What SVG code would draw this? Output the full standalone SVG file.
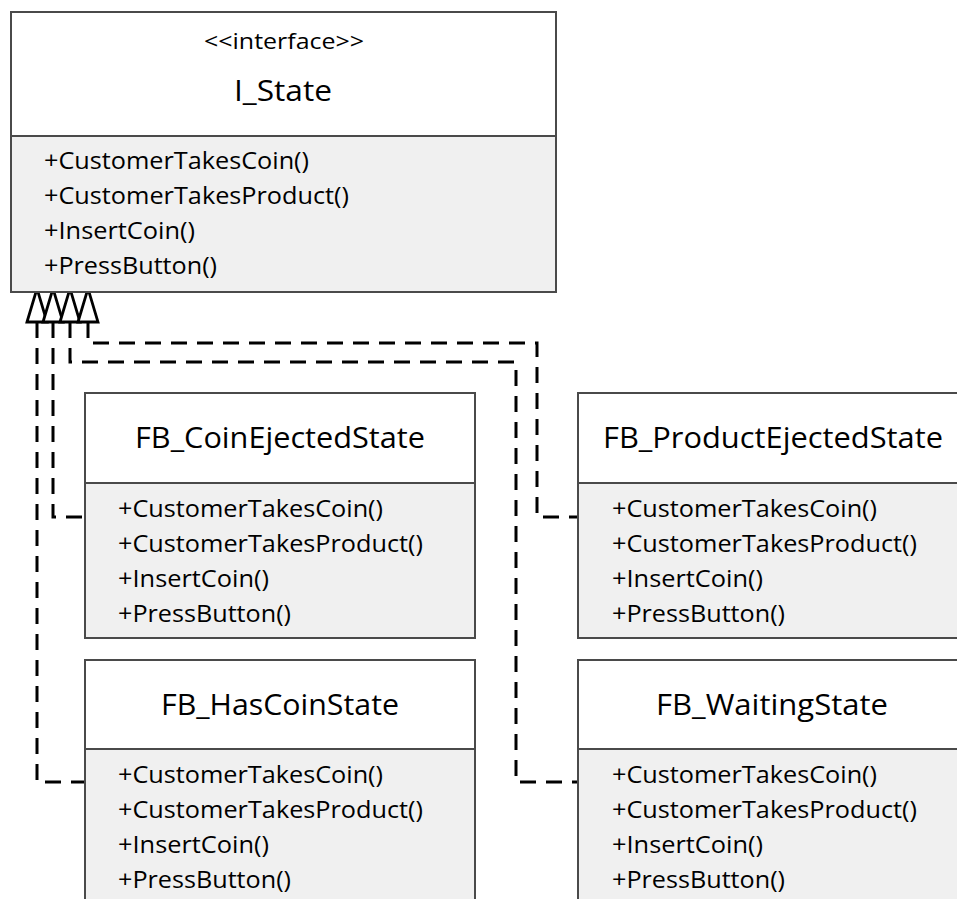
<svg xmlns="http://www.w3.org/2000/svg" width="957" height="899" viewBox="0 0 957 899">
<style>
  .box { fill: #ffffff; stroke: #4a4a4a; stroke-width: 2; }
  .ops { fill: #f0f0f0; stroke: #4a4a4a; stroke-width: 2; }
  .t { font-family: "Open Sans", "Noto Sans", "DejaVu Sans", sans-serif; fill: #000; }
  .title { font-size: 30px; text-anchor: middle; }
  .stereo { font-size: 21px; text-anchor: middle; }
  .op { font-size: 24px; }
  .conn { fill: none; stroke: #000; stroke-width: 3; stroke-dasharray: 16 10; }
  .head { fill: #fff; stroke: #000; stroke-width: 2.5; stroke-dasharray: none; stroke-linejoin: miter; }
</style>
<defs>
  <marker id="realize" markerUnits="userSpaceOnUse" markerWidth="40" markerHeight="30" viewBox="-2 -12 36 24" refX="0" refY="0" orient="auto-start-reverse" overflow="visible">
    <polygon class="head" points="0,-9 30,0 0,9"/>
  </marker>
</defs>
<rect width="957" height="899" fill="#ffffff"/>

<g id="connectors">
  <path class="conn" d="M37,322 V782 H85" marker-start="url(#realize)"/>
  <path class="conn" d="M53,322 V517 H85" marker-start="url(#realize)"/>
  <path class="conn" d="M70,322 V362 H516 V782 H578" marker-start="url(#realize)"/>
  <path class="conn" d="M88,322 V343 H537 V517 H578" marker-start="url(#realize)"/>
</g>

<g id="I_State">
  <rect class="box" x="11" y="12" width="545" height="124"/>
  <rect class="ops" x="11" y="136" width="545" height="156"/>
  <text class="t stereo" x="284" y="49" textLength="160" lengthAdjust="spacingAndGlyphs">&lt;&lt;interface&gt;&gt;</text>
  <text class="t title" x="283" y="101" textLength="98" lengthAdjust="spacingAndGlyphs">I_State</text>
  <text class="t op" x="44" y="169" textLength="265" lengthAdjust="spacingAndGlyphs">+CustomerTakesCoin()</text>
  <text class="t op" x="44" y="204" textLength="305" lengthAdjust="spacingAndGlyphs">+CustomerTakesProduct()</text>
  <text class="t op" x="44" y="239" textLength="151" lengthAdjust="spacingAndGlyphs">+InsertCoin()</text>
  <text class="t op" x="44" y="274" textLength="173" lengthAdjust="spacingAndGlyphs">+PressButton()</text>
</g>

<g id="FB_CoinEjectedState">
  <rect class="box" x="85" y="393" width="390" height="90"/>
  <rect class="ops" x="85" y="483" width="390" height="155"/>
  <text class="t title" x="280" y="448" textLength="290" lengthAdjust="spacingAndGlyphs">FB_CoinEjectedState</text>
  <text class="t op" x="118" y="517" textLength="265" lengthAdjust="spacingAndGlyphs">+CustomerTakesCoin()</text>
  <text class="t op" x="118" y="552" textLength="305" lengthAdjust="spacingAndGlyphs">+CustomerTakesProduct()</text>
  <text class="t op" x="118" y="587" textLength="151" lengthAdjust="spacingAndGlyphs">+InsertCoin()</text>
  <text class="t op" x="118" y="622" textLength="173" lengthAdjust="spacingAndGlyphs">+PressButton()</text>
</g>

<g id="FB_ProductEjectedState">
  <rect class="box" x="578" y="393" width="390" height="90"/>
  <rect class="ops" x="578" y="483" width="390" height="155"/>
  <text class="t title" x="773" y="448" textLength="340" lengthAdjust="spacingAndGlyphs">FB_ProductEjectedState</text>
  <text class="t op" x="612" y="517" textLength="265" lengthAdjust="spacingAndGlyphs">+CustomerTakesCoin()</text>
  <text class="t op" x="612" y="552" textLength="305" lengthAdjust="spacingAndGlyphs">+CustomerTakesProduct()</text>
  <text class="t op" x="612" y="587" textLength="151" lengthAdjust="spacingAndGlyphs">+InsertCoin()</text>
  <text class="t op" x="612" y="622" textLength="173" lengthAdjust="spacingAndGlyphs">+PressButton()</text>
</g>

<g id="FB_HasCoinState">
  <rect class="box" x="85" y="660" width="390" height="89"/>
  <rect class="ops" x="85" y="749" width="390" height="160"/>
  <text class="t title" x="280" y="715" textLength="238" lengthAdjust="spacingAndGlyphs">FB_HasCoinState</text>
  <text class="t op" x="118" y="783" textLength="265" lengthAdjust="spacingAndGlyphs">+CustomerTakesCoin()</text>
  <text class="t op" x="118" y="818" textLength="305" lengthAdjust="spacingAndGlyphs">+CustomerTakesProduct()</text>
  <text class="t op" x="118" y="853" textLength="151" lengthAdjust="spacingAndGlyphs">+InsertCoin()</text>
  <text class="t op" x="118" y="888" textLength="173" lengthAdjust="spacingAndGlyphs">+PressButton()</text>
</g>

<g id="FB_WaitingState">
  <rect class="box" x="578" y="660" width="390" height="89"/>
  <rect class="ops" x="578" y="749" width="390" height="160"/>
  <text class="t title" x="772" y="715" textLength="232" lengthAdjust="spacingAndGlyphs">FB_WaitingState</text>
  <text class="t op" x="612" y="783" textLength="265" lengthAdjust="spacingAndGlyphs">+CustomerTakesCoin()</text>
  <text class="t op" x="612" y="818" textLength="305" lengthAdjust="spacingAndGlyphs">+CustomerTakesProduct()</text>
  <text class="t op" x="612" y="853" textLength="151" lengthAdjust="spacingAndGlyphs">+InsertCoin()</text>
  <text class="t op" x="612" y="888" textLength="173" lengthAdjust="spacingAndGlyphs">+PressButton()</text>
</g>
</svg>
